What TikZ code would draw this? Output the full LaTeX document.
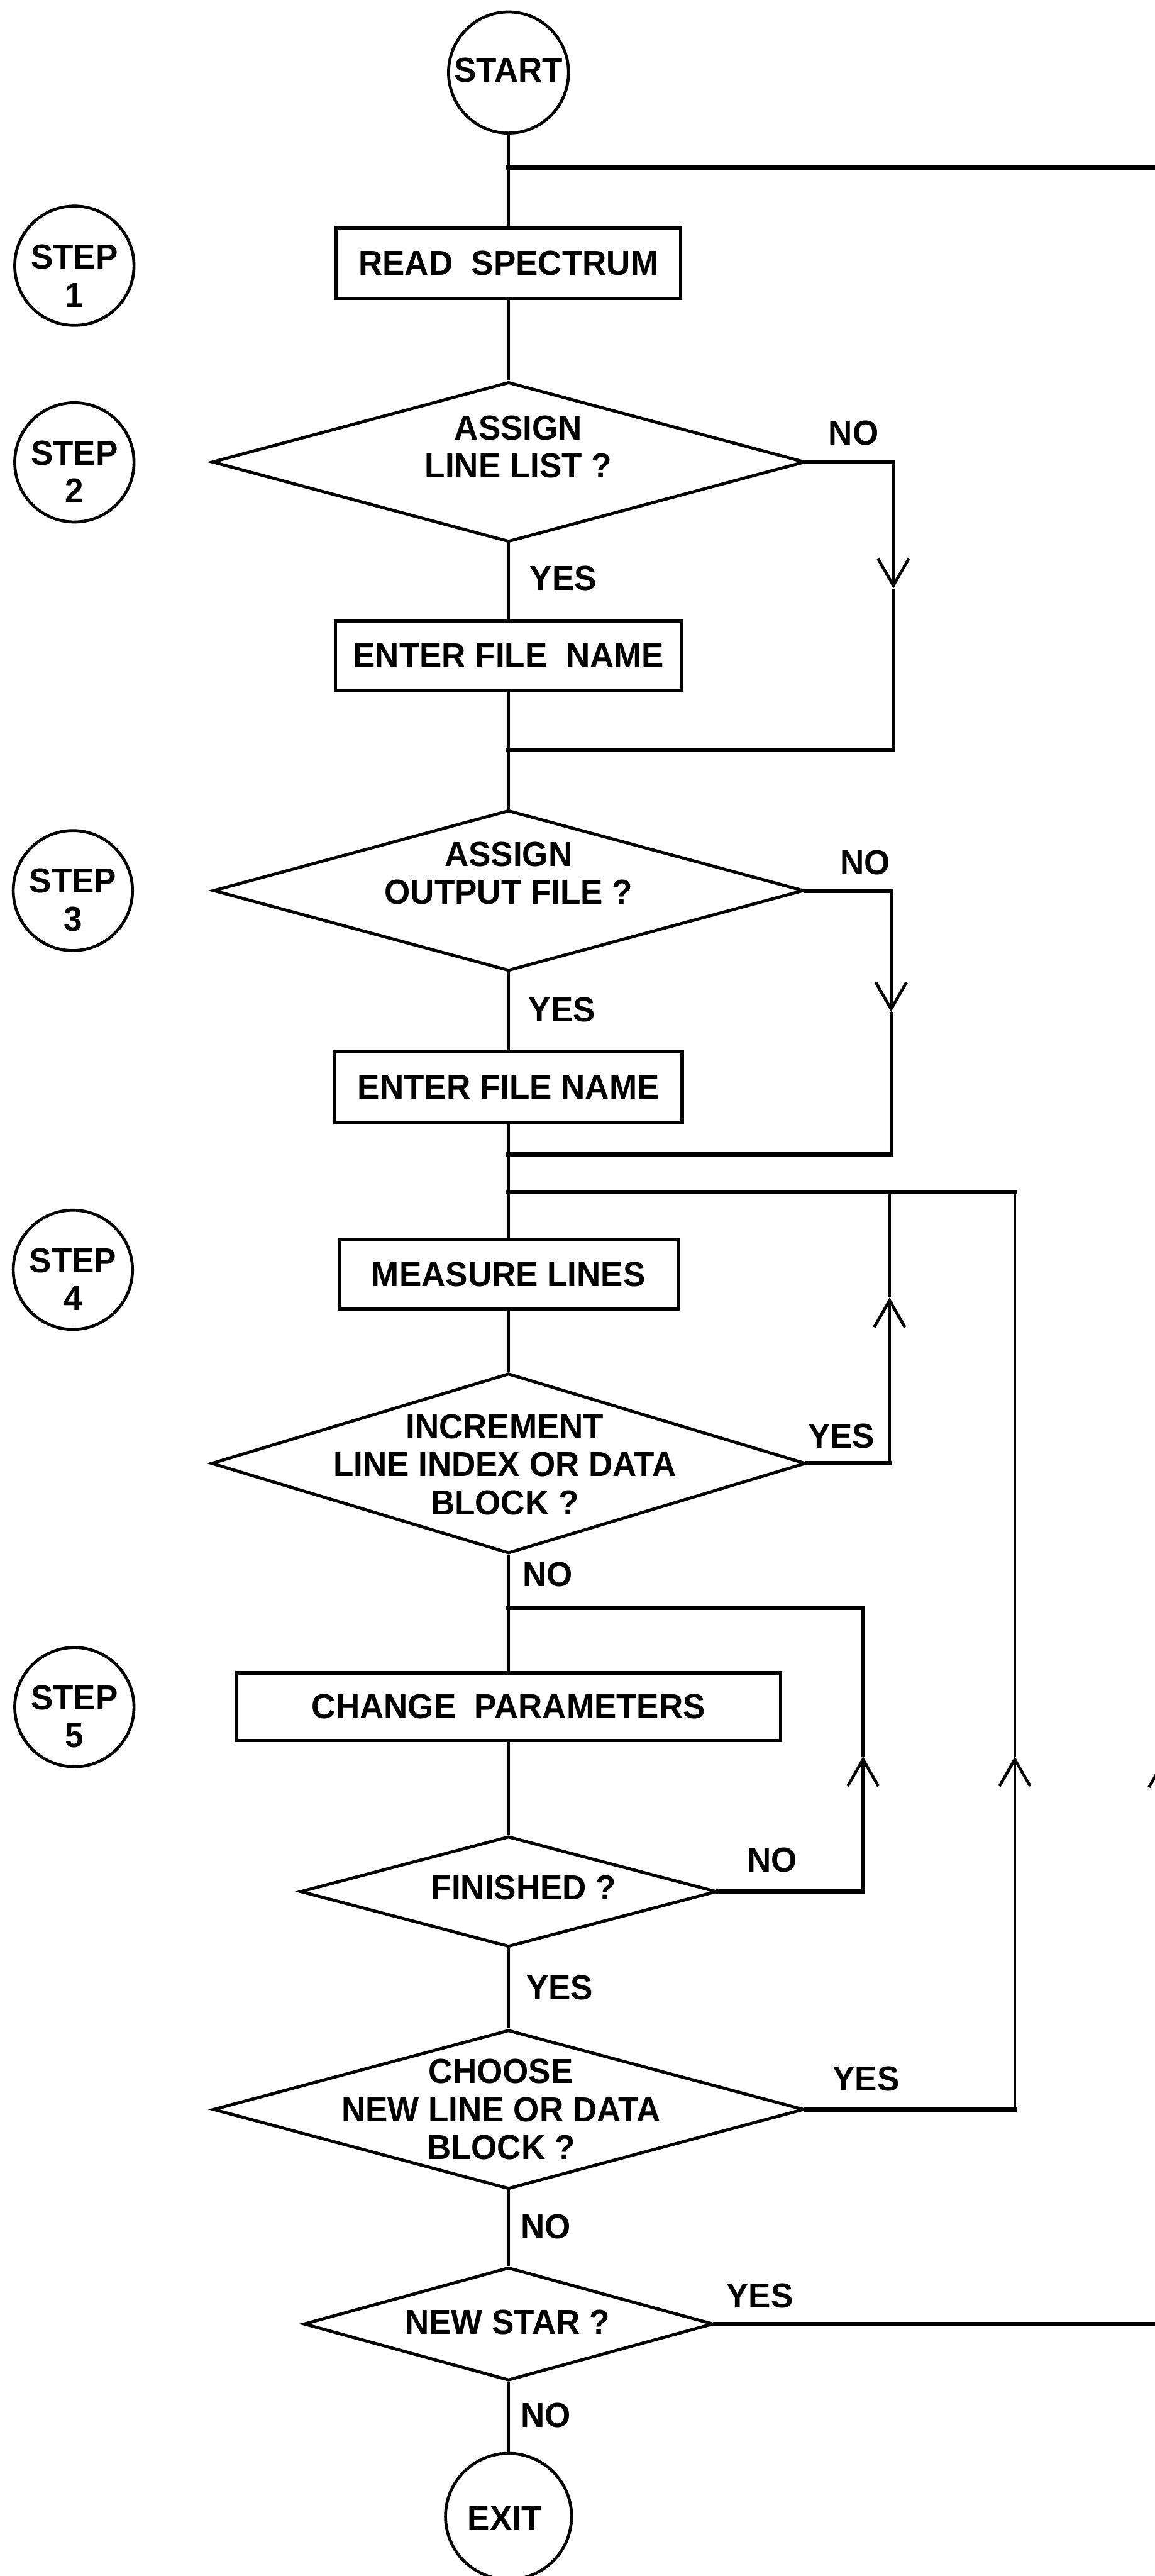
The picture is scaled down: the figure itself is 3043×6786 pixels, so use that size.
\documentclass[tikz,border=0pt]{standalone}
\usepackage{fontspec}
\setmainfont{Liberation Sans}[UprightFont={* Bold}, FakeStretch=0.96]
\usetikzlibrary{shapes.geometric,arrows.meta}
\begin{document}
\begin{tikzpicture}[x=0.01cm, y=-0.01cm,
  every node/.style={font=\fontsize{26}{28.5}\selectfont},
  proc/.style={draw, line width=2.5pt, rectangle, inner sep=0pt},
  dec/.style={draw, line width=2.3pt, diamond, inner sep=0pt},
  term/.style={draw, line width=2.2pt, ellipse, inner sep=0pt},
  txt/.style={inner sep=0pt, align=center},
  lbl/.style={inner sep=0pt},
  vline/.style={line width=2.2pt},
  hline/.style={line width=3.3pt, line cap=rect},
  tip/.style={-{Straight Barb[length=20pt,width=23pt]}}
]
\useasboundingbox (0,0) rectangle (3043,6786);
\clip (0,0) rectangle (3043,6786);

% ---- main column ----
\node[term, minimum width=31.6mm, minimum height=31.9mm] (start) at (1340,191) {};
\node[txt] (t-start) at (1340,184) {START};

\node[proc, minimum width=90.7mm, minimum height=18.6mm] (read) at (1340,693) {READ \ SPECTRUM};

\node[dec, minimum width=156.2mm, minimum height=42.1mm] (d1) at (1340,1217) {};
\node[txt] (t-d1) at (1366,1177) {ASSIGN\\LINE LIST ?};

\node[proc, minimum width=91.2mm, minimum height=18.3mm] (enter1) at (1340,1727) {ENTER FILE \ NAME};

\node[dec, minimum width=155.6mm, minimum height=42.3mm] (d2) at (1340,2346) {};
\node[txt] (t-d2) at (1340,2300) {ASSIGN\\OUTPUT FILE ?};

\node[proc, minimum width=91.5mm, minimum height=18.6mm] (enter2) at (1340,2864) {ENTER FILE NAME};

\node[proc, minimum width=89.3mm, minimum height=18.3mm] (measure) at (1340,3357) {MEASURE LINES};

\node[dec, minimum width=156.6mm, minimum height=47.4mm] (d3) at (1340,3855) {};
\node[txt] (t-d3) at (1330,3858) {INCREMENT\\LINE INDEX OR DATA\\BLOCK ?};

\node[proc, minimum width=143.2mm, minimum height=17.8mm] (change) at (1340,4496) {CHANGE \ PARAMETERS};

\node[dec, minimum width=109.7mm, minimum height=29.1mm] (d4) at (1340,4983) {};
\node[txt] (t-d4) at (1380,4973) {FINISHED ?};

\node[dec, minimum width=155.6mm, minimum height=41.9mm] (d5) at (1340,5557) {};
\node[txt] (t-d5) at (1320,5557) {CHOOSE\\NEW LINE OR DATA\\BLOCK ?};

\node[dec, minimum width=107.9mm, minimum height=29.8mm] (d6) at (1340,6122) {};
\node[txt] (t-d6) at (1337,6118) {NEW STAR ?};

\node[term, minimum width=33.2mm, minimum height=33.2mm] (exit) at (1340,6629) {};
\node[txt] (t-exit) at (1330,6635) {EXIT};

% ---- step circles ----
\node[term, minimum width=31.4mm, minimum height=31.4mm] (s1) at (196,700) {};
\node[txt] (t-s1) at (196,727) {STEP\\1};
\node[term, minimum width=31.4mm, minimum height=31.4mm] (s2) at (196,1218) {};
\node[txt] (t-s2) at (196,1243) {STEP\\2};
\node[term, minimum width=31.4mm, minimum height=31.6mm] (s3) at (192,2346) {};
\node[txt] (t-s3) at (192,2371) {STEP\\3};
\node[term, minimum width=31.4mm, minimum height=31.4mm] (s4) at (192,3345) {};
\node[txt] (t-s4) at (192,3370) {STEP\\4};
\node[term, minimum width=31.4mm, minimum height=31.4mm] (s5) at (196,4497) {};
\node[txt] (t-s5) at (196,4522) {STEP\\5};

% ---- branch labels ----
\node[lbl] (l1n) at (2249,1141) {NO};
\node[lbl] (l1y) at (1484,1524) {YES};
\node[lbl] (l2n) at (2280,2272) {NO};
\node[lbl] (l2y) at (1481,2660) {YES};
\node[lbl] (l3y) at (2217,3783) {YES};
\node[lbl] (l3n) at (1443,4148) {NO};
\node[lbl] (l4n) at (2035,4899) {NO};
\node[lbl] (l4y) at (1475,5236) {YES};
\node[lbl] (l5y) at (2282,5477) {YES};
\node[lbl] (l5n) at (1438,5866) {NO};
\node[lbl] (l6y) at (2002,6048) {YES};
\node[lbl] (l6n) at (1438,6362) {NO};

% ---- junction coordinates ----
\coordinate (jtop) at (1340,441);
\coordinate (rtop) at (3068,441);
\coordinate (rbot) at (3068,6122);
\coordinate (ar6) at (3068,4630);

\coordinate (c1a) at (2354,1217);
\coordinate (ar1) at (2354,1550);
\coordinate (c1b) at (2354,1975);
\coordinate (j1) at (1340,1975);

\coordinate (c2a) at (2348,2346);
\coordinate (ar2) at (2348,2666);
\coordinate (c2b) at (2348,3041);
\coordinate (j2) at (1340,3041);

\coordinate (j3) at (1340,3140);
\coordinate (c3a) at (2344,3855);
\coordinate (ar3) at (2344,3418);
\coordinate (c3b) at (2344,3140);
\coordinate (c5b) at (2674,3140);
\coordinate (c5a) at (2674,5557);
\coordinate (ar5) at (2674,4627);

\coordinate (j4) at (1340,4236);
\coordinate (c4a) at (2274,4983);
\coordinate (ar4) at (2274,4627);
\coordinate (c4b) at (2274,4236);

% ---- main flow ----
\draw[vline] (start) -- (read);
\draw[vline] (read) -- (d1);
\draw[vline] (d1) -- (enter1);
\draw[vline] (enter1) -- (d2);
\draw[vline] (d2) -- (enter2);
\draw[vline] (enter2) -- (measure);
\draw[vline] (measure) -- (d3);
\draw[vline] (d3) -- (change);
\draw[vline] (change) -- (d4);
\draw[vline] (d4) -- (d5);
\draw[vline] (d5) -- (d6);
\draw[vline] (d6) -- (exit);

% ---- loop: new star ----
\draw[hline] (d6.east) -- (rbot);
\draw[vline, tip] (rbot) -- (ar6);
\draw[vline] (ar6) -- (rtop);
\draw[hline] (rtop) -- (jtop);

% ---- skip: assign line list ----
\draw[hline] (d1.east) -- (c1a);
\draw[vline, tip] (c1a) -- (ar1);
\draw[vline] (ar1) -- (c1b);
\draw[hline] (c1b) -- (j1);

% ---- skip: assign output file ----
\draw[hline] (d2.east) -- (c2a);
\draw[vline, tip] (c2a) -- (ar2);
\draw[vline] (ar2) -- (c2b);
\draw[hline] (c2b) -- (j2);

% ---- loop: increment ----
\draw[hline] (j3) -- (c5b);
\draw[hline] (d3.east) -- (c3a);
\draw[vline, tip] (c3a) -- (ar3);
\draw[vline] (ar3) -- (c3b);

% ---- loop: choose new line ----
\draw[hline] (d5.east) -- (c5a);
\draw[vline, tip] (c5a) -- (ar5);
\draw[vline] (ar5) -- (c5b);

% ---- loop: finished ----
\draw[hline] (d4.east) -- (c4a);
\draw[vline, tip] (c4a) -- (ar4);
\draw[vline] (ar4) -- (c4b);
\draw[hline] (c4b) -- (j4);
\end{tikzpicture}
\end{document}
